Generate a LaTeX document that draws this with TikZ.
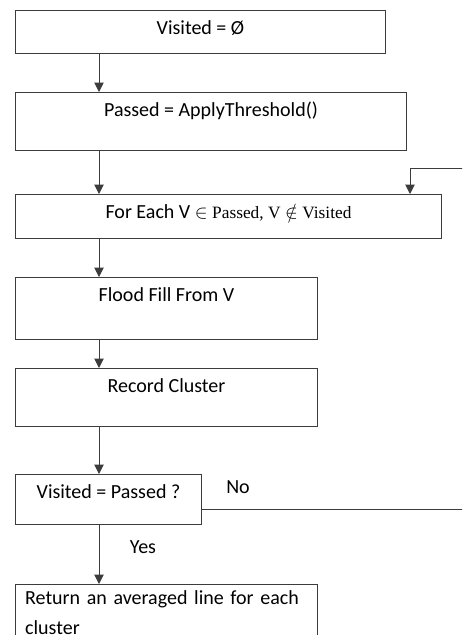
\documentclass[tikz,border=0pt]{standalone}
\usepackage{fontspec}
\setmainfont{Carlito}
\newfontfamily\serifpart{Liberation Serif}
\usetikzlibrary{arrows.meta,positioning}
\definecolor{lineclr}{RGB}{60,60,60}

\begin{document}
\begin{tikzpicture}[
    every node/.style={font=\fontsize{15pt}{22.5pt}\selectfont, align=center},
    stepbox/.style={draw=lineclr, line width=0.75pt, inner xsep=0pt, inner ysep=0pt, text height=18pt},
    arr/.style={-{Triangle[length=7pt, width=7pt]}, line width=0.75pt, color=lineclr}
]
\useasboundingbox (0,0) rectangle (346.5pt,-476.25pt);
\clip (0,0) rectangle (346.5pt,-476.25pt);
\coordinate (axis) at (74.25pt,0);

\node (init) [stepbox, minimum width=277.5pt, text depth=14.25pt, anchor=north west] at (11.25pt,-7.5pt) {Visited = Ø};
\node (pass) [stepbox, minimum width=293.25pt, text depth=25.5pt, below=28.5pt of init.south west, anchor=north west] {Passed = ApplyThreshold()};
\node (loop) [stepbox, minimum width=319.5pt, text depth=15pt, below=32.25pt of pass.south west, anchor=north west] {For Each V $\in$ {\fontsize{13pt}{15pt}\serifpart Passed, V} $\notin$ {\fontsize{13pt}{15pt}\serifpart Visited}};
\node (flood) [stepbox, minimum width=226.5pt, text depth=28.5pt, below=28.5pt of loop.south west, anchor=north west] {Flood Fill From V};
\node (record) [stepbox, minimum width=226.5pt, text depth=25.5pt, below=21pt of flood.south west, anchor=north west] {Record Cluster};
\node (check) [stepbox, minimum width=139.5pt, text depth=19.5pt, below=35.25pt of record.south west, anchor=north west] {Visited = Passed ?};
\node (result) [stepbox, text width=212pt, inner xsep=7.25pt, align=left, text height=15pt, text depth=38pt, below=44.25pt of check.south west, anchor=north west] {Return an averaged line for each\\cluster};

\node (yes) at (107.25pt,-410.25pt) {Yes};
\node (no) at (178.5pt,-365.25pt) {No};

\path (check.north east) ++(0,-26.25pt) coordinate (noout);
\coordinate (back) at (307.5pt,-126pt);

\draw[arr] (init.south -| axis) -- (pass.north -| axis);
\draw[arr] (pass.south -| axis) -- (loop.north -| axis);
\draw[arr] (loop.south -| axis) -- (flood.north -| axis);
\draw[arr] (flood.south -| axis) -- (record.north -| axis);
\draw[arr] (record.south -| axis) -- (check.north -| axis);
\draw[arr] (check.south -| axis) -- (result.north -| axis);
% the no branch runs off the right edge and comes back in
\draw[arr] (noout) -- ++(200pt,0) |- (back) -- (loop.north -| back);
\end{tikzpicture}
\end{document}
